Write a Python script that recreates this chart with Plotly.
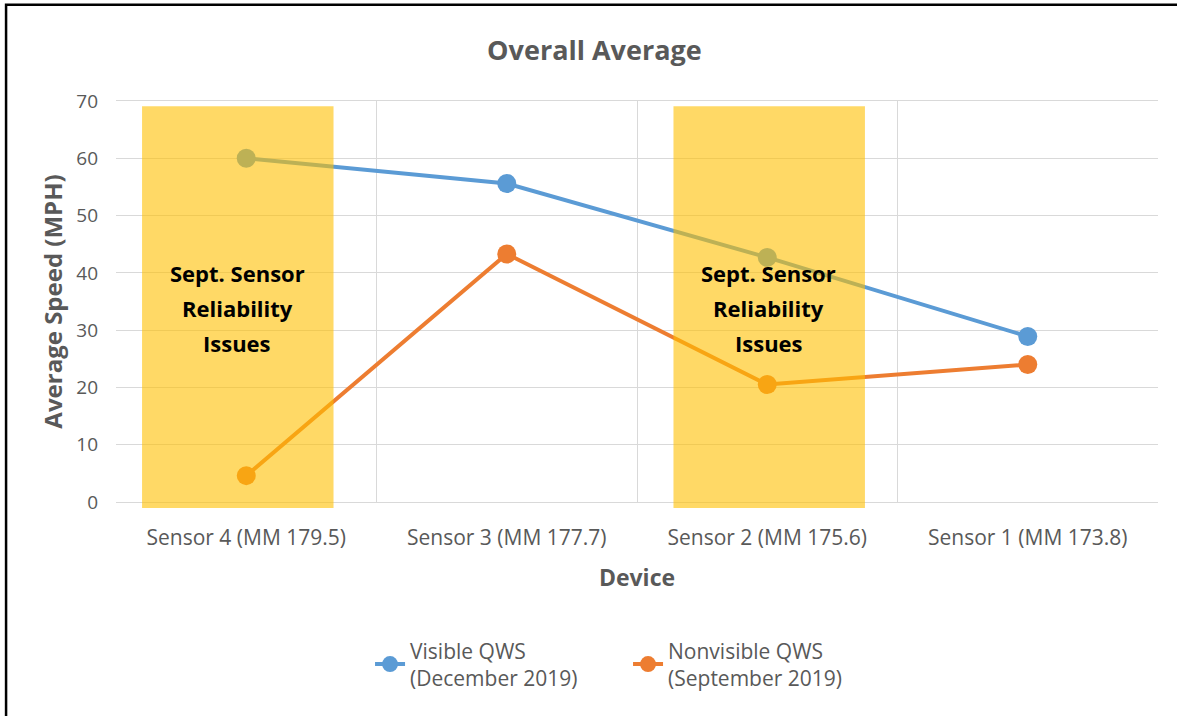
import plotly.graph_objects as go

categories = ["Sensor 4 (MM 179.5)", "Sensor 3 (MM 177.7)", "Sensor 2 (MM 175.6)", "Sensor 1 (MM 173.8)"]
visible_dec = [60.0, 55.6, 42.7, 28.9]
nonvisible_sep = [4.6, 43.3, 20.5, 24.0]
series_names = ["Visible QWS<br>(December 2019)", "Nonvisible QWS<br>(September 2019)"]
highlighted = ["Sensor 4 (MM 179.5)", "Sensor 2 (MM 175.6)"]
highlight_lines = ["Sept. Sensor", "Reliability", "Issues"]
y_ticks = [0, 10, 20, 30, 40, 50, 60, 70]

BLUE = "#5B9BD5"
ORANGE = "#ED7D31"
GRAY = "#595959"
GRID = "#D9D9D9"
FONT = "Open Sans"

fig = go.Figure()
for name, vals, col in [(series_names[0], visible_dec, BLUE), (series_names[1], nonvisible_sep, ORANGE)]:
    fig.add_trace(go.Scatter(
        x=categories, y=vals, name=name, mode="lines+markers",
        line=dict(color=col, width=4),
        marker=dict(color=col, size=19),
    ))

shapes = []
annotations = []
for cat in highlighted:
    i = categories.index(cat)
    off = 0.04 if i > 0 else 0.0
    shapes.append(dict(
        type="rect", xref="x", yref="paper",
        x0=i - 0.40 + off, x1=i + 0.335 + off,
        y0=-0.015, y1=0.987,
        fillcolor="#FFC000", opacity=0.6, line=dict(width=0), layer="above",
    ))
    for k, line in enumerate(highlight_lines):
        annotations.append(dict(
            x=i - 0.035 + off, y=33.9, xref="x", yref="y", yshift=35 * (1 - k),
            text="<b>" + line + "</b>", showarrow=False,
            font=dict(family=FONT, size=22, color="#000000"),
        ))

# outer border (frame of the original picture)
shapes.append(dict(
    type="rect", xref="paper", yref="paper",
    x0=-0.1055, x1=1.2, y0=-1.0, y1=1.240,
    line=dict(color="#000000", width=2.5), fillcolor="rgba(0,0,0,0)", layer="below",
))

fig.update_layout(
    width=1177, height=716,
    margin=dict(l=116, r=19, t=101, b=214, autoexpand=False),
    paper_bgcolor="white", plot_bgcolor="white",
    font=dict(family=FONT, color=GRAY),
    title=dict(text="<b>Overall Average</b>", x=0.505, xanchor="center", xref="container",
               y=0.930, yanchor="middle", yref="container",
               font=dict(family=FONT, size=27, color=GRAY)),
    shapes=shapes, annotations=annotations,
    showlegend=True,
    legend=dict(orientation="h", x=0.2438, xanchor="left",
                y=-0.32, yanchor="top", font=dict(family=FONT, size=21, color=GRAY),
                entrywidth=213, entrywidthmode="pixels"),
    xaxis=dict(type="category", tickson="boundaries", showgrid=True, gridcolor=GRID, gridwidth=1,
               showline=True, linecolor=GRID, mirror=True, ticks="", zeroline=False,
               tickangle=0, ticklabelstandoff=17,
               tickfont=dict(family=FONT, size=21, color=GRAY),
               title=dict(text="<b>Device</b>", font=dict(family=FONT, size=23, color=GRAY), standoff=19),
               range=[-0.5, 3.5]),
    yaxis=dict(range=[0, 70], tickvals=y_ticks, showgrid=True, gridcolor=GRID, gridwidth=1,
               zeroline=False, showline=False, ticks="", ticklen=0, ticklabelstandoff=17,
               tickfont=dict(family=FONT, size=19, color=GRAY),
               title=dict(text="<b>Average Speed (MPH)</b>", font=dict(family=FONT, size=24, color=GRAY), standoff=6)),
)

fig.write_html("out.html", config={"displayModeBar": False},
               post_script="document.body.style.margin='0px';")
